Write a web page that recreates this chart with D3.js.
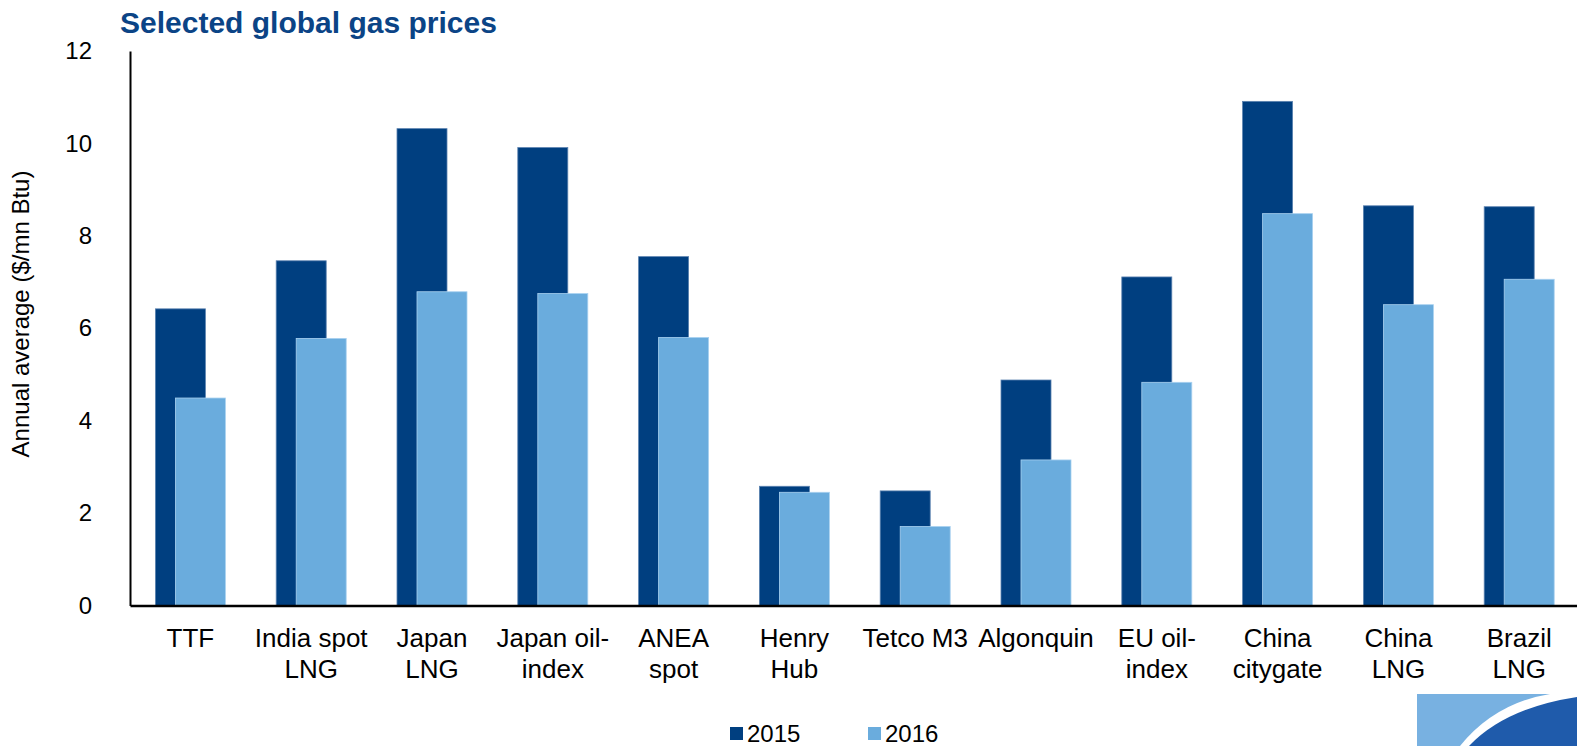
<!DOCTYPE html>
<html>
<head>
<meta charset="utf-8">
<script src="https://cdn.jsdelivr.net/npm/d3@7"></script>
<style>
  body { margin: 0; background: #fff; }
  svg { display: block; font-family: "Liberation Sans", Arial, sans-serif; }
</style>
</head>
<body>
<svg id="chart"></svg>
<script>
// Data
const categories = ["TTF", "India spot\nLNG", "Japan\nLNG", "Japan oil-\nindex", "ANEA\nspot",
  "Henry\nHub", "Tetco M3", "Algonquin", "EU oil-\nindex", "China\ncitygate", "China\nLNG", "Brazil\nLNG"];
const years = ["2015", "2016"];
const prices2015 = [6.42, 7.46, 10.32, 9.91, 7.55, 2.58, 2.48, 4.88, 7.11, 10.91, 8.65, 8.63];
const prices2016 = [4.49, 5.78, 6.79, 6.75, 5.80, 2.45, 1.71, 3.15, 4.83, 8.48, 6.51, 7.06];
const yTicks = [0, 2, 4, 6, 8, 10, 12];

const colors = { "2015": "#003f80", "2016": "#6aacdd" };
const strokes = { "2015": "#5b82b0", "2016": "#a9d1f0" };

const width = 1577, height = 746;
const svg = d3.select("#chart").attr("width", width).attr("height", height);

const rows = categories.map((c, i) => ({ cat: c, "2015": prices2015[i], "2016": prices2016[i] }));

// Scales
const x = d3.scaleBand()
  .domain(categories)
  .range([130, 130 + 12 * 120.8]);

const bw = x.bandwidth();
const barW = 50;
const xSub = d3.scalePoint()
  .domain(years)
  .range([bw / 2 - 35, bw / 2 - 15]);

const y = d3.scaleLinear()
  .domain([0, 12])
  .range([605.5, 51]);

// Bars (2016 drawn over 2015)
const groups = svg.append("g").classed("bars", true)
  .selectAll("g")
  .data(rows)
  .join("g")
  .attr("transform", d => `translate(${x(d.cat)},0)`);

groups.selectAll("rect")
  .data(d => years.map(yr => ({ yr, v: d[yr] })))
  .join("rect")
  .attr("x", d => xSub(d.yr))
  .attr("width", barW)
  .attr("y", d => y(d.v))
  .attr("height", d => y(0) - y(d.v))
  .attr("fill", d => colors[d.yr])
  .attr("stroke", d => strokes[d.yr])
  .attr("stroke-width", 0.8);

// Y axis
const yAxis = svg.append("g")
  .attr("transform", "translate(130,0)")
  .call(d3.axisLeft(y).tickValues(yTicks).tickSize(0).tickSizeOuter(0).tickPadding(38));
yAxis.select(".domain").attr("stroke", "#000").attr("stroke-width", 2);
yAxis.selectAll("text")
  .attr("font-size", 24)
  .attr("fill", "#000")
  .style("font-family", "Liberation Sans, Arial, sans-serif");

// X axis
const xAxis = svg.append("g")
  .attr("transform", `translate(0,${y(0)})`)
  .call(d3.axisBottom(x).tickSize(0).tickSizeOuter(0).tickFormat(""));
xAxis.select(".domain").attr("stroke", "#000").attr("stroke-width", 2.5);

xAxis.selectAll(".tick").each(function (d) {
  const t = d3.select(this).append("text")
    .attr("fill", "#000")
    .attr("font-size", 26)
    .attr("text-anchor", "middle")
    .style("font-family", "Liberation Sans, Arial, sans-serif");
  d.split("\n").forEach((line, i) => {
    t.append("tspan").attr("x", 0).attr("y", 41 + i * 31).text(line);
  });
});

// Y axis title
svg.append("text")
  .attr("transform", "translate(29,314) rotate(-90)")
  .attr("text-anchor", "middle")
  .attr("font-size", 24)
  .attr("fill", "#000")
  .text("Annual average ($/mn Btu)");

// Chart title
svg.append("text")
  .attr("x", 120)
  .attr("y", 33)
  .attr("font-size", 30)
  .attr("font-weight", "bold")
  .attr("fill", "#0b4486")
  .text("Selected global gas prices");

// Legend
const legend = svg.append("g").classed("legend", true)
  .selectAll("g")
  .data(years)
  .join("g")
  .attr("transform", (d, i) => `translate(${730 + i * 138},727)`);

legend.append("rect")
  .attr("width", 13)
  .attr("height", 13)
  .attr("fill", d => colors[d]);

legend.append("text")
  .attr("x", 17)
  .attr("y", 15)
  .attr("font-size", 24)
  .attr("fill", "#000")
  .text(d => d);

// Corner decoration
const deco = svg.append("g");
deco.append("rect")
  .attr("x", 1417).attr("y", 694)
  .attr("width", width - 1417).attr("height", height - 694)
  .attr("fill", "#78b1e1");
deco.append("path")
  .attr("d", "M1460,746 Q1495,703 1550,694 L1577,694 L1577,746 Z")
  .attr("fill", "#fff");
deco.append("path")
  .attr("d", "M1469,746 Q1505,708 1577,697 L1577,746 Z")
  .attr("fill", "#1f5bab");
</script>
</body>
</html>
